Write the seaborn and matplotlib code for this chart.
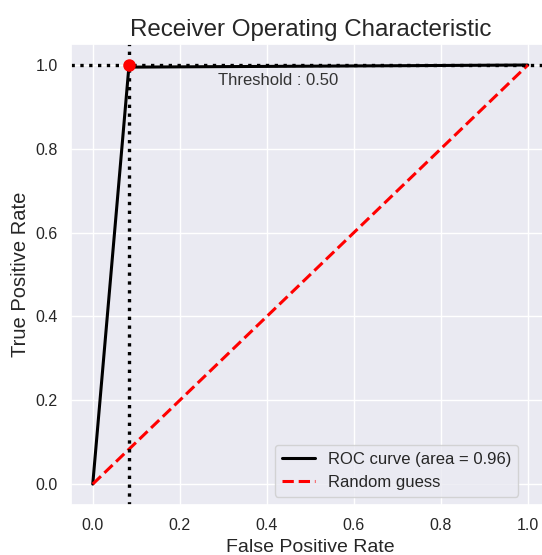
import numpy as np
import pandas as pd
import matplotlib
matplotlib.use("Agg")
import matplotlib.pyplot as plt
import seaborn as sns

fpr = [0.0, 0.083, 1.0]
tpr = [0.0, 0.995, 1.0]
diag = [0.0, 1.0]
best_fpr = 0.083
best_tpr = 1.0
auc_value = 0.96
threshold = 0.50

sns.set_theme(style="darkgrid")
plt.rcParams['font.family'] = ['Liberation Sans', 'DejaVu Sans']

fig = plt.figure(figsize=(5.42, 5.55), dpi=100)
ax = fig.add_axes([0.131, 0.09, 0.883, 0.8306])

roc_df = pd.DataFrame({"fpr": fpr, "tpr": tpr})
diag_df = pd.DataFrame({"x": diag, "y": diag})

sns.lineplot(data=roc_df, x="fpr", y="tpr", ax=ax, color="black", lw=2.2,
             label=f"ROC curve (area = {auc_value:.2f})", sort=False, estimator=None)
sns.lineplot(data=diag_df, x="x", y="y", ax=ax, color="red", lw=2.2, linestyle="--",
             label="Random guess", estimator=None)
ax.axvline(best_fpr, color="black", linestyle=":", lw=2.4)
ax.axhline(best_tpr, color="black", linestyle=":", lw=2.4)
ax.plot([best_fpr], [best_tpr], "o", color="red", markersize=8)
ax.text(best_fpr + 0.205, best_tpr - 0.038, f"Threshold : {threshold:.2f}",
        fontsize=12, ha="left", va="center", color="#333333")

ax.set_xlim(-0.05, 1.05)
ax.set_ylim(-0.05, 1.05)
ax.set_xticks([0.0, 0.2, 0.4, 0.6, 0.8, 1.0])
ax.set_yticks([0.0, 0.2, 0.4, 0.6, 0.8, 1.0])
ax.tick_params(labelsize=11.5)
ax.set_xlabel("False Positive Rate", fontsize=14)
ax.set_ylabel("True Positive Rate", fontsize=14.5)
ax.set_title("Receiver Operating Characteristic", fontsize=17.4)
ax.legend(loc="lower right", fontsize=12, bbox_to_anchor=(0.952, 0.0))

fig.savefig("out.png", dpi=100)
